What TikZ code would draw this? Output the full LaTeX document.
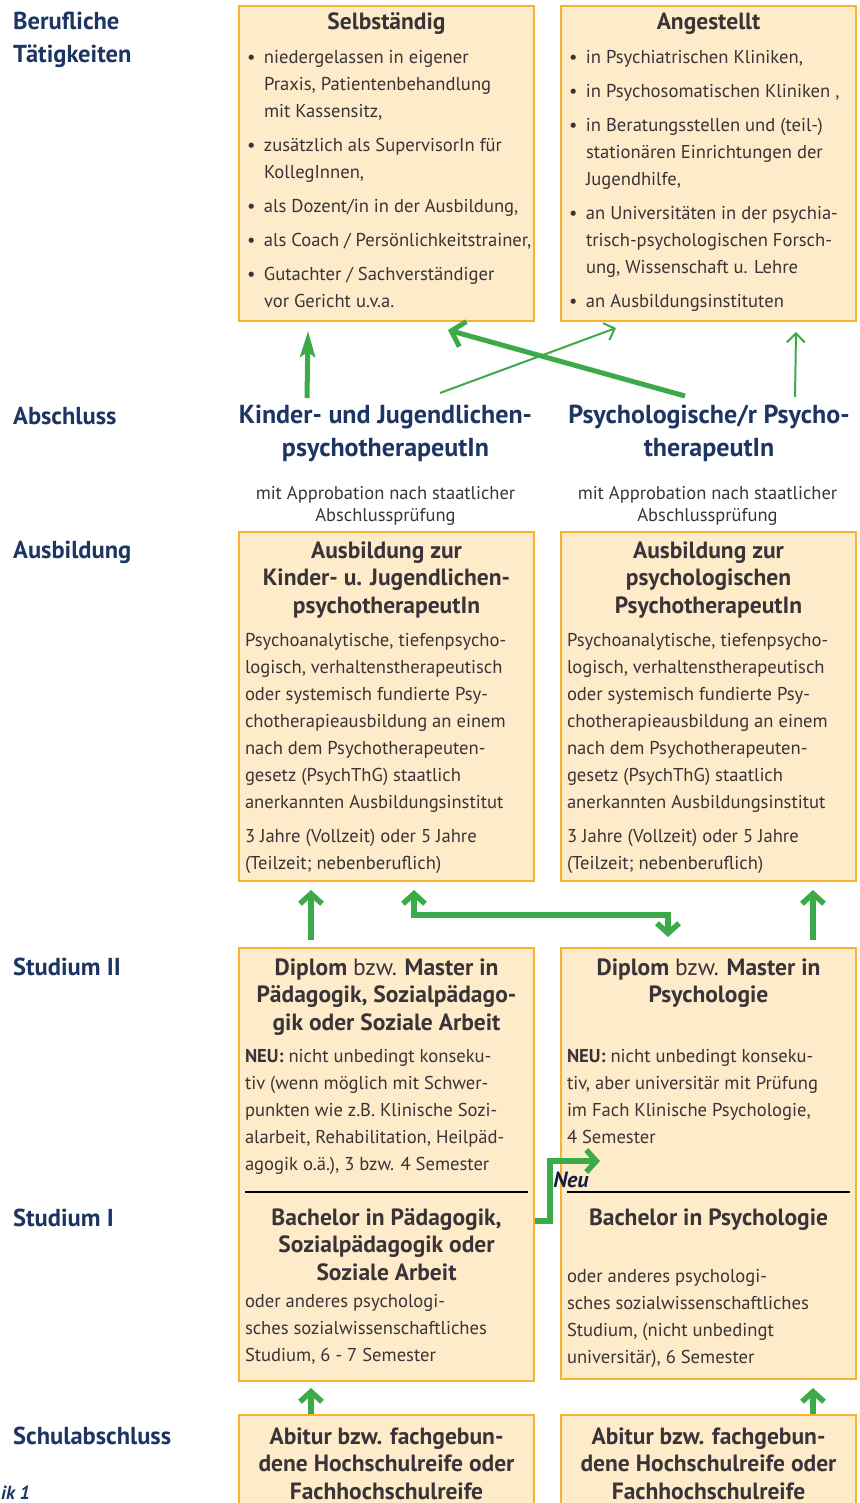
\documentclass[tikz,border=0pt]{standalone}
\usepackage{fontspec}
\setmainfont{PT Sans}
\usetikzlibrary{arrows.meta}
\definecolor{boxfill}{HTML}{FDEBC9}
\definecolor{boxline}{HTML}{F8B230}
\definecolor{arrowgreen}{HTML}{3DAA49}
\definecolor{labelblue}{HTML}{1D3563}
\definecolor{bodytext}{HTML}{3A3438}
\newcommand{\bodyfont}{\fontsize{18.6}{27}\selectfont}
\newcommand{\headfont}{\fontsize{23.5}{27.5}\selectfont\bfseries}
\newcommand{\boxbody}[2]{\parbox[c][#1][t]{283pt}{\raggedright\rightskip=-16pt plus 1fil\let\\\newline\bodyfont\hyphenpenalty=10000\exhyphenpenalty=10000 #2}}
\newcommand{\boxhead}[2]{{\centering\headfont\rule{0pt}{#1}#2\par}}
\newcommand{\bpoint}[1]{\par\vspace{7pt}\hangindent=19pt\hangafter=1\noindent\makebox[19pt][l]{\hspace{2pt}\textbullet}#1}
\begin{document}
\begin{tikzpicture}[x=1pt,y=-1pt,
    box/.style={draw=boxline, line width=2pt, fill=boxfill, anchor=north west, inner xsep=6pt, inner ysep=0pt, text=bodytext},
    rowlabel/.style={anchor=base west, inner sep=0pt, text=labelblue, font=\fontsize{24.5}{33}\selectfont\bfseries},
    degree/.style={anchor=north, inner sep=0pt, align=center, text=labelblue, font=\fontsize{26}{33}\selectfont\bfseries},
    approb/.style={anchor=north, inner sep=0pt, align=center, text=bodytext, font=\fontsize{18.5}{22}\selectfont},
    flow/.style={draw=arrowgreen, line width=5.5pt, -{Straight Barb[length=10pt,width=22pt]}},
    flowbold/.style={draw=arrowgreen, line width=5pt, -{Straight Barb[length=12pt,width=26pt]}},
    flowthin/.style={draw=arrowgreen, line width=2pt, -{Straight Barb[length=9pt,width=18pt]}}]
    \useasboundingbox (0,0) rectangle (859,1503);
    \clip (0,0) rectangle (859,1503);

    % row labels
    \node[rowlabel, anchor=north west, align=left] (beruf) at (13,12) {Berufliche\\Tätigkeiten};
    \node[rowlabel] (abschl) at (13,424) {Abschluss};
    \node[rowlabel] (ausb) at (13,558) {Ausbildung};
    \node[rowlabel] (studzwei) at (13,975) {Studium II};
    \node[rowlabel] (studeins) at (13,1226) {Studium I};
    \node[rowlabel] (schul) at (13,1444) {Schulabschluss};
    \node[rowlabel, font=\fontsize{19}{19}\selectfont\bfseries\itshape] (grafik) at (1,1499) {ik 1};

    % berufliche taetigkeiten
    \node[box] (selb) at (238,5) {\boxbody{315pt}{%
        \boxhead{24pt}{Selbständig}
        \bpoint{niedergelassen in eigener\\Praxis, Patientenbehandlung\\mit Kassensitz,}
        \bpoint{zusätzlich als SupervisorIn für\\KollegInnen,}
        \bpoint{als Dozent/in in der Ausbildung,}
        \bpoint{als Coach / Persönlichkeitstrainer,}
        \bpoint{Gutachter / Sachverständiger\\vor Gericht u.v.a.}}};
    \node[box] (angest) at (560,5) {\boxbody{315pt}{%
        \boxhead{24pt}{Angestellt}
        \bpoint{in Psychiatrischen Kliniken,}
        \bpoint{in Psychosomatischen Kliniken ,}
        \bpoint{in Beratungsstellen und (teil-)\\stationären Einrichtungen der\\Jugendhilfe,}
        \bpoint{an Universitäten in der psychia-\\trisch-psychologischen Forsch-\\ung, Wissenschaft u. Lehre}
        \bpoint{an Ausbildungsinstituten}}};

    % abschluss
    \node[degree] (kjp) at (385.5,405) {Kinder- und Jugendlichen-\\psychotherapeutIn};
    \node[degree] (ppt) at (709,405) {Psychologische/r Psycho-\\therapeutIn};
    \node[approb] (appL) at (385.5,486) {mit Approbation nach staatlicher\\Abschlussprüfung};
    \node[approb] (appR) at (707.5,486) {mit Approbation nach staatlicher\\Abschlussprüfung};

    % ausbildung
    \node[box] (ausL) at (238,531) {\boxbody{349pt}{%
        \boxhead{26pt}{Ausbildung zur\\Kinder- u. Jugendlichen-\\psychotherapeutIn}
        \vspace{6.5pt}Psychoanalytische, tiefenpsycho-\\logisch, verhaltenstherapeutisch\\oder systemisch fundierte Psy-\\chotherapieausbildung an einem\\nach dem Psychotherapeuten-\\gesetz (PsychThG) staatlich\\anerkannten Ausbildungsinstitut
        \par\vspace{7pt}3 Jahre (Vollzeit) oder 5 Jahre\\(Teilzeit; nebenberuflich)}};
    \node[box] (ausR) at (560,531) {\boxbody{349pt}{%
        \boxhead{26pt}{Ausbildung zur\\psychologischen\\PsychotherapeutIn}
        \vspace{6.5pt}Psychoanalytische, tiefenpsycho-\\logisch, verhaltenstherapeutisch\\oder systemisch fundierte Psy-\\chotherapieausbildung an einem\\nach dem Psychotherapeuten-\\gesetz (PsychThG) staatlich\\anerkannten Ausbildungsinstitut
        \par\vspace{7pt}3 Jahre (Vollzeit) oder 5 Jahre\\(Teilzeit; nebenberuflich)}};

    % studium II und I
    \node[box] (studL) at (238,947) {\boxbody{433pt}{%
        \boxhead{27pt}{Diplom {\mdseries bzw.} Master in\\Pädagogik, Sozialpädago-\\gik oder Soziale Arbeit}
        \vspace{5pt}\textbf{NEU:} nicht unbedingt konseku-\\tiv (wenn möglich mit Schwer-\\punkten wie z.B. Klinische Sozi-\\alarbeit, Rehabilitation, Heilpäd-\\agogik o.ä.), 3 bzw. 4 Semester
        \par\vspace{27.5pt}\boxhead{0pt}{Bachelor in Pädagogik,\\Sozialpädagogik oder\\Soziale Arbeit}
        oder anderes psychologi-\\sches sozialwissenschaftliches\\Studium, 6 - 7 Semester}};
    \node[box] (studR) at (560,947) {\boxbody{431pt}{%
        \boxhead{27pt}{Diplom {\mdseries bzw.} Master in\\Psychologie}
        \vspace{32.5pt}\textbf{NEU:} nicht unbedingt konseku-\\tiv, aber universitär mit Prüfung\\im Fach Klinische Psychologie,\\4 Semester
        \par\vspace{54.5pt}\boxhead{0pt}{Bachelor in Psychologie}
        \vspace{30pt}oder anderes psychologi-\\sches sozialwissenschaftliches\\Studium, (nicht unbedingt\\universitär), 6 Semester}};
    \draw[line width=1.8pt] ([xshift=7pt,yshift=-245pt]studL.north west) -- ([xshift=-7pt,yshift=-245pt]studL.north east);
    \draw[line width=1.8pt] ([xshift=7pt,yshift=-245pt]studR.north west) -- ([xshift=-7pt,yshift=-245pt]studR.north east);

    % schulabschluss
    \node[box] (schulL) at (238,1414) {\boxbody{110pt}{\boxhead{29pt}{Abitur bzw. fachgebun-\\dene Hochschulreife oder\\Fachhochschulreife}}};
    \node[box] (schulR) at (560,1414) {\boxbody{110pt}{\boxhead{29pt}{Abitur bzw. fachgebun-\\dene Hochschulreife oder\\Fachhochschulreife}}};

    % pfeile
    \draw[flowbold, -{Stealth[length=26pt,width=15pt,inset=5pt]}] ([xshift=-78.5pt,yshift=7pt]kjp.north) -- ([xshift=-78.5pt,yshift=-9pt]selb.south);
    \draw[flowbold] ([xshift=-24pt,yshift=9pt]ppt.north) -- ([xshift=61.5pt,yshift=-8pt]selb.south);
    \draw[flowthin] ([xshift=54.5pt,yshift=12pt]kjp.north) -- ([xshift=-92.5pt,yshift=-6pt]angest.south);
    \draw[flowthin] ([xshift=86pt,yshift=8pt]ppt.north) -- ([xshift=87.5pt,yshift=-10pt]angest.south);
    \draw[flow] ([xshift=-75.5pt,yshift=7pt]studL.north) -- ([xshift=-75.5pt,yshift=-8pt]ausL.south);
    \draw[flow, {Straight Barb[length=10pt,width=22pt]}-{Straight Barb[length=10pt,width=22pt]}] ([xshift=27.5pt,yshift=-8pt]ausL.south) -- ++(0,25) -| ([xshift=-40.5pt,yshift=10pt]studR.north);
    \draw[flow] ([xshift=104.5pt,yshift=7pt]studR.north) -- ([xshift=104.5pt,yshift=-8pt]ausR.south);
    \draw[flow] ([yshift=-56.5pt]studL.east) -- ++(15,0) |- ([xshift=40pt,yshift=2.5pt]studR.west);
    \draw[flow] ([xshift=-75.5pt]schulL.north) -- ([xshift=-75.5pt,yshift=-6pt]studL.south);
    \draw[flow] ([xshift=104.5pt]schulR.north) -- ([xshift=104.5pt,yshift=-8pt]studR.south);
    \node[anchor=base, inner sep=0pt, text=labelblue!60!black, font=\fontsize{22}{22}\selectfont\bfseries\itshape] (neu) at (571,1187) {Neu};
\end{tikzpicture}
\end{document}
